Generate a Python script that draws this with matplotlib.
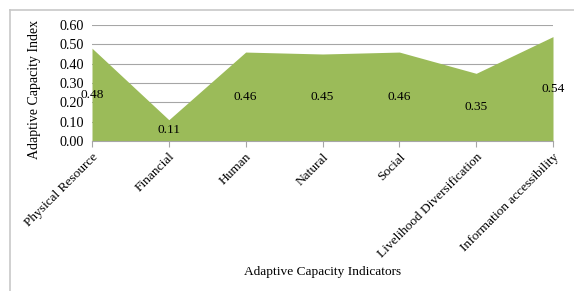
import matplotlib
matplotlib.use("Agg")
import matplotlib.pyplot as plt
from matplotlib.lines import Line2D

categories = ["Physical Resource", "Financial", "Human", "Natural", "Social",
              "Livelihood Diversification", "Information accessibility"]
values = [0.48, 0.11, 0.46, 0.45, 0.46, 0.35, 0.54]
yticks = [0.0, 0.1, 0.2, 0.3, 0.4, 0.5, 0.6]

FS = 9.6
plt.rcParams['font.family'] = ['Liberation Serif', 'DejaVu Serif']
fig = plt.figure(figsize=(5.74, 2.91), dpi=100)
ax = fig.add_axes([92/574, 1-141/291, (553-92)/574, (141-25)/291])

x = list(range(len(categories)))
ax.fill_between(x, values, 0, color='#9BBB59', linewidth=0, zorder=2)
ax.set_xlim(0, len(categories)-1)
ax.set_ylim(0, 0.6)
ax.set_yticks(yticks)
ax.set_yticklabels([f"{v:.2f}" for v in yticks], fontsize=10.2)
ax.yaxis.grid(True, color='#A6A6A6', linewidth=0.8, zorder=0)
ax.set_axisbelow(True)
ax.set_xticks(x)
ax.set_xticklabels(categories, rotation=45, ha='right', rotation_mode='anchor', fontsize=FS)
ax.tick_params(axis='y', length=0, pad=6)
ax.tick_params(axis='x', length=4, color='#A6A6A6', pad=3)
for s in ['top', 'right', 'left']:
    ax.spines[s].set_visible(False)
ax.spines['bottom'].set_color('#A6A6A6')

for xi, v in zip(x, values):
    ax.text(xi, v/2, f"{v:.2f}", ha='center', va='center', fontsize=FS, zorder=3)

ax.set_ylabel("Adaptive Capacity Index", fontsize=10, va='center')
ax.yaxis.set_label_coords((35-92)/461, (141-89)/116)
fig.text(323/574, 1-272/291, "Adaptive Capacity Indicators", ha='center', va='center', fontsize=FS)

# outer chart border (top and left visible)
fig.add_artist(Line2D([10/574, 10/574], [0, 1-10/291], transform=fig.transFigure, color='#C8C8C8', lw=1.2))
fig.add_artist(Line2D([10/574, 1], [1-10/291, 1-10/291], transform=fig.transFigure, color='#C8C8C8', lw=1.2))

fig.savefig("out.png", dpi=100)
